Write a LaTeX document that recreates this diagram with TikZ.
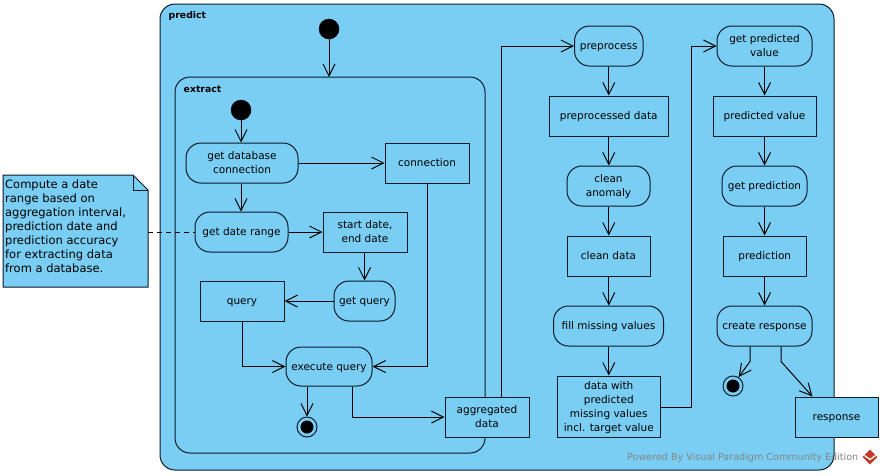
\documentclass[tikz,border=0pt]{standalone}
\usepackage{fontspec}
\setmainfont{DejaVu Sans}
\usetikzlibrary{arrows.meta,calc,shapes.geometric}
\definecolor{vpblue}{HTML}{7ACEF4}
\definecolor{vpline}{HTML}{0A1A28}
\definecolor{vplogo}{HTML}{C0392B}
\tikzset{
  frame/.style={draw=vpline,fill=vpblue,line width=1pt,rounded corners=15pt},
  act/.style={draw=vpline,fill=vpblue,line width=1pt,rounded corners=15pt,font=\fontsize{10.5}{14}\selectfont,inner sep=0pt},
  obj/.style={draw=vpline,fill=vpblue,line width=1pt,font=\fontsize{10.5}{14}\selectfont,inner sep=0pt},
  ttl/.style={font=\bfseries\fontsize{9.3}{11}\selectfont,anchor=west,inner sep=0pt},
  flow/.style={draw=black,line width=1pt,-{Straight Barb[length=12pt,width=12pt,line width=1pt]}},
  startdot/.style={circle,fill=black,draw=black,inner sep=0pt,minimum size=20pt},
  enddot/.style={circle,fill=vpblue,draw=vpline,line width=1pt,inner sep=0pt,minimum size=20pt},
}
\newcommand{\boxat}[7]{\node[#1,minimum width=#5pt-#3pt,minimum height=#6pt-#4pt] (#2) at ({(#3+#5)/2},{(#4+#6)/2}) {\raisebox{-1pt}[\height][\depth]{\begin{tabular}{@{}c@{}}#7\end{tabular}}};}
\begin{document}
\begin{tikzpicture}[x=1pt,y=-1pt]
\useasboundingbox (0,0) rectangle (882,475);
\fill[white] (0,0) rectangle (882,475);
\boxat{frame}{predict}{160}{4}{834}{470}{}
\boxat{frame}{extract}{175}{77}{485}{453}{}
\node[ttl] (tp) at (168.5,15.5) {predict};
\node[ttl] (te) at (183.5,89.5) {extract};
\node[startdot] (s1) at (329,29) {};
\node[startdot] (s2) at (241,110) {};
\boxat{act}{dbc}{186}{143}{298}{183}{get database\\connection}
\boxat{obj}{conn}{385}{143}{469}{183}{connection}
\boxat{act}{range}{195}{212}{288}{252}{get date range}
\boxat{obj}{dates}{323}{212}{407}{252}{start date,\\end date}
\boxat{act}{getq}{334}{281}{395}{321}{get query}
\boxat{obj}{query}{200}{281}{284}{321}{query}
\boxat{act}{exec}{286}{347}{372}{386}{execute query}
\boxat{obj}{agg}{445}{397}{529}{437}{aggregated\\data}
\node[enddot] (e1) at (307,427) {};
\node[circle,fill=black,inner sep=0pt,minimum size=13pt] (e1i) at (e1) {};
\boxat{act}{pre}{574.5}{26}{643}{66}{preprocess}
\boxat{obj}{pred}{549}{96}{668.5}{136}{preprocessed data}
\boxat{act}{anom}{567}{166}{650}{206}{clean\\anomaly}
\boxat{obj}{clean}{567}{236}{650}{276}{clean data}
\boxat{act}{fill}{553.5}{306}{663.5}{346}{fill missing values}
\boxat{obj}{miss}{557}{376}{660.5}{437}{data with\\predicted\\missing values\\incl. target value}
\boxat{act}{gpv}{717}{26}{812}{66}{get predicted\\value}
\boxat{obj}{pv}{713}{96}{816}{136}{predicted value}
\boxat{act}{gp}{722}{166}{807}{206}{get prediction}
\boxat{obj}{pn}{723}{236}{806.5}{276}{prediction}
\boxat{act}{cr}{717}{306}{812}{346}{create response}
\boxat{obj}{resp}{795}{397}{878}{437}{response}
\node[enddot] (e2) at (733,386) {};
\node[circle,fill=black,inner sep=0pt,minimum size=13pt] (e2i) at (e2) {};
% note
\draw[fill=vpblue,draw=vpline,line width=1pt] (3,175) -- (133,175) -- (148,190) -- (148,287) -- (3,287) -- cycle;
\draw[draw=vpline,line width=1pt] (133,175) -- (133,190) -- (148,190);
\coordinate (noteE) at (148,232);
\node[anchor=north west,align=left,inner sep=0pt,font=\fontsize{11.5}{14}\selectfont] (note) at (5,180) {Compute a date\\range based on\\aggregation interval,\\prediction date and\\prediction accuracy\\for extracting data\\from a database.};
% connectors
\draw[flow] (s1) -- (329,77);
\draw[flow] (s2) -- (dbc.north -| s2);
\draw[flow] (dbc.south -| s2) -- (range.north -| s2);
\draw[flow] (dbc.east) -- (conn.west);
\draw[flow] (range.east) -- (dates.west);
\draw[black,line width=1pt,dash pattern=on 5pt off 4pt] (noteE) -- (range.west);
\draw[flow] (dates.south -| getq.north) -- (getq.north);
\draw[flow] (getq.west) -- (query.east);
\draw[flow] (query.south) |- (exec.west);
\draw[flow] (conn.south) |- (exec.east);
\draw[flow] (exec.south -| e1) -- (e1.north);
\draw[flow] ([xshift=23pt]exec.south) |- (agg.west);
\draw[flow] ([xshift=14pt]agg.north) |- (pre.west);
\draw[flow] (pre.south -| pred.north) -- (pred.north);
\draw[flow] (pred.south) -- (anom.north -| pred.south);
\draw[flow] (anom.south -| pred.south) -- (clean.north -| pred.south);
\draw[flow] (clean.south -| pred.south) -- (fill.north -| pred.south);
\draw[flow] (fill.south -| pred.south) -- (miss.north -| pred.south);
\draw[flow] ([yshift=-0.5pt]miss.east) -- ++(30.5,0) |- (gpv.west);
\draw[flow] (gpv.south -| pv.north) -- (pv.north);
\draw[flow] (pv.south) -- (gp.north -| pv.south);
\draw[flow] (gp.south -| pv.south) -- (pn.north -| pv.south);
\draw[flow] (pn.south -| pv.south) -- (cr.north -| pv.south);
\draw[flow] ([xshift=-14.5pt]cr.south) -- ++(0,15) -- (e2.58);
\draw[flow] ([xshift=16.5pt]cr.south) -- ++(0,15) -- ([xshift=-24pt]resp.north);
% watermark
\node[anchor=west,inner sep=0pt,text=black!48,font=\fontsize{9.6}{11}\selectfont] (wm) at (627,458) {Powered By Visual Paradigm Community Edition};
\node[diamond,fill=vplogo,inner sep=0pt,minimum size=15pt] (logo) at (870,457) {};
\draw[white,line width=1.3pt] (864.5,455.5) -- (870,459.5) -- (875.5,455.5);
\end{tikzpicture}
\end{document}
